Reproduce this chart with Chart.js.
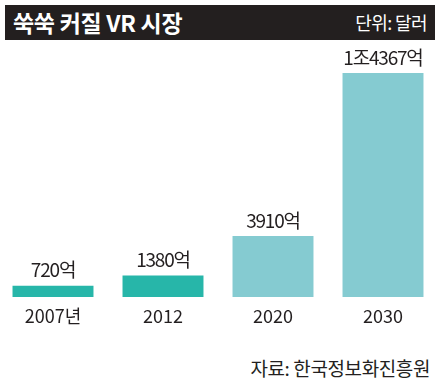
<!DOCTYPE html>
<html>
<head>
<meta charset="utf-8">
<script src="https://cdn.jsdelivr.net/npm/chart.js@4.4.1/dist/chart.umd.min.js"></script>
<style>
  html, body { margin: 0; padding: 0; background: #ffffff; }
  body { width: 439px; height: 386px; position: relative; overflow: hidden; font-family: "Noto Sans CJK KR", "Noto Sans", sans-serif; }
  #titlebar { position: absolute; left: 5px; top: 5px; width: 430px; height: 35px; background: #231f1f; }
  #title { position: absolute; left: 8px; top: 0; line-height: 35px; color: #fff; font-size: 23px; font-weight: bold; letter-spacing: -0.3px; }
  #unit { position: absolute; right: 8px; top: 0; line-height: 35px; color: #fff; font-size: 18px; letter-spacing: -0.6px; }
  #source { position: absolute; right: 9px; top: 355px; color: #231f20; font-size: 19px; letter-spacing: -0.4px; line-height: 26px; }
  #wrap { position: absolute; left: -2px; top: 0; width: 440px; height: 340px; }
</style>
</head>
<body>
<div id="titlebar"><div id="title">쑥쑥 커질 VR 시장</div><div id="unit">단위: 달러</div></div>
<div id="wrap"><canvas id="c"></canvas></div>
<div id="source">자료: 한국정보화진흥원</div>
<script>
const categories = ["2007년", "2012", "2020", "2030"];
const values = [720, 1380, 3910, 14367];
const valueLabels = ["720억", "1380억", "3910억", "1조4367억"];
const barColors = ["#27b6a9", "#27b6a9", "#85cbd1", "#85cbd1"];

const valueLabelPlugin = {
  id: "valueLabels",
  afterDatasetsDraw(chart) {
    const ctx = chart.ctx;
    const meta = chart.getDatasetMeta(0);
    ctx.save();
    ctx.font = "19px 'Noto Sans CJK KR', sans-serif";
    ctx.fillStyle = "#231f20";
    ctx.textAlign = "center";
    ctx.textBaseline = "bottom";
    if ("letterSpacing" in ctx) ctx.letterSpacing = "-1.2px";
    meta.data.forEach((bar, i) => {
      ctx.fillText(valueLabels[i], bar.x, bar.y - 6);
    });
    ctx.restore();
  }
};

new Chart(document.getElementById("c"), {
  type: "bar",
  data: {
    labels: categories,
    datasets: [{
      data: values,
      backgroundColor: barColors,
      borderWidth: 0,
      categoryPercentage: 1,
      barPercentage: 0.736
    }]
  },
  options: {
    responsive: true,
    maintainAspectRatio: false,
    animation: false,
    events: [],
    layout: { padding: { top: 45, left: 0, right: 0, bottom: 0 } },
    plugins: { legend: { display: false }, tooltip: { enabled: false } },
    scales: {
      x: {
        grid: { display: false, drawTicks: false },
        border: { display: false },
        ticks: { color: "#231f20", font: { family: "'Noto Sans CJK KR', sans-serif", size: 18 }, padding: 8 },
        afterFit(scale) { scale.height = 43; }
      },
      y: {
        display: false,
        min: 0,
        max: 16160
      }
    }
  },
  plugins: [valueLabelPlugin]
});
</script>
</body>
</html>
